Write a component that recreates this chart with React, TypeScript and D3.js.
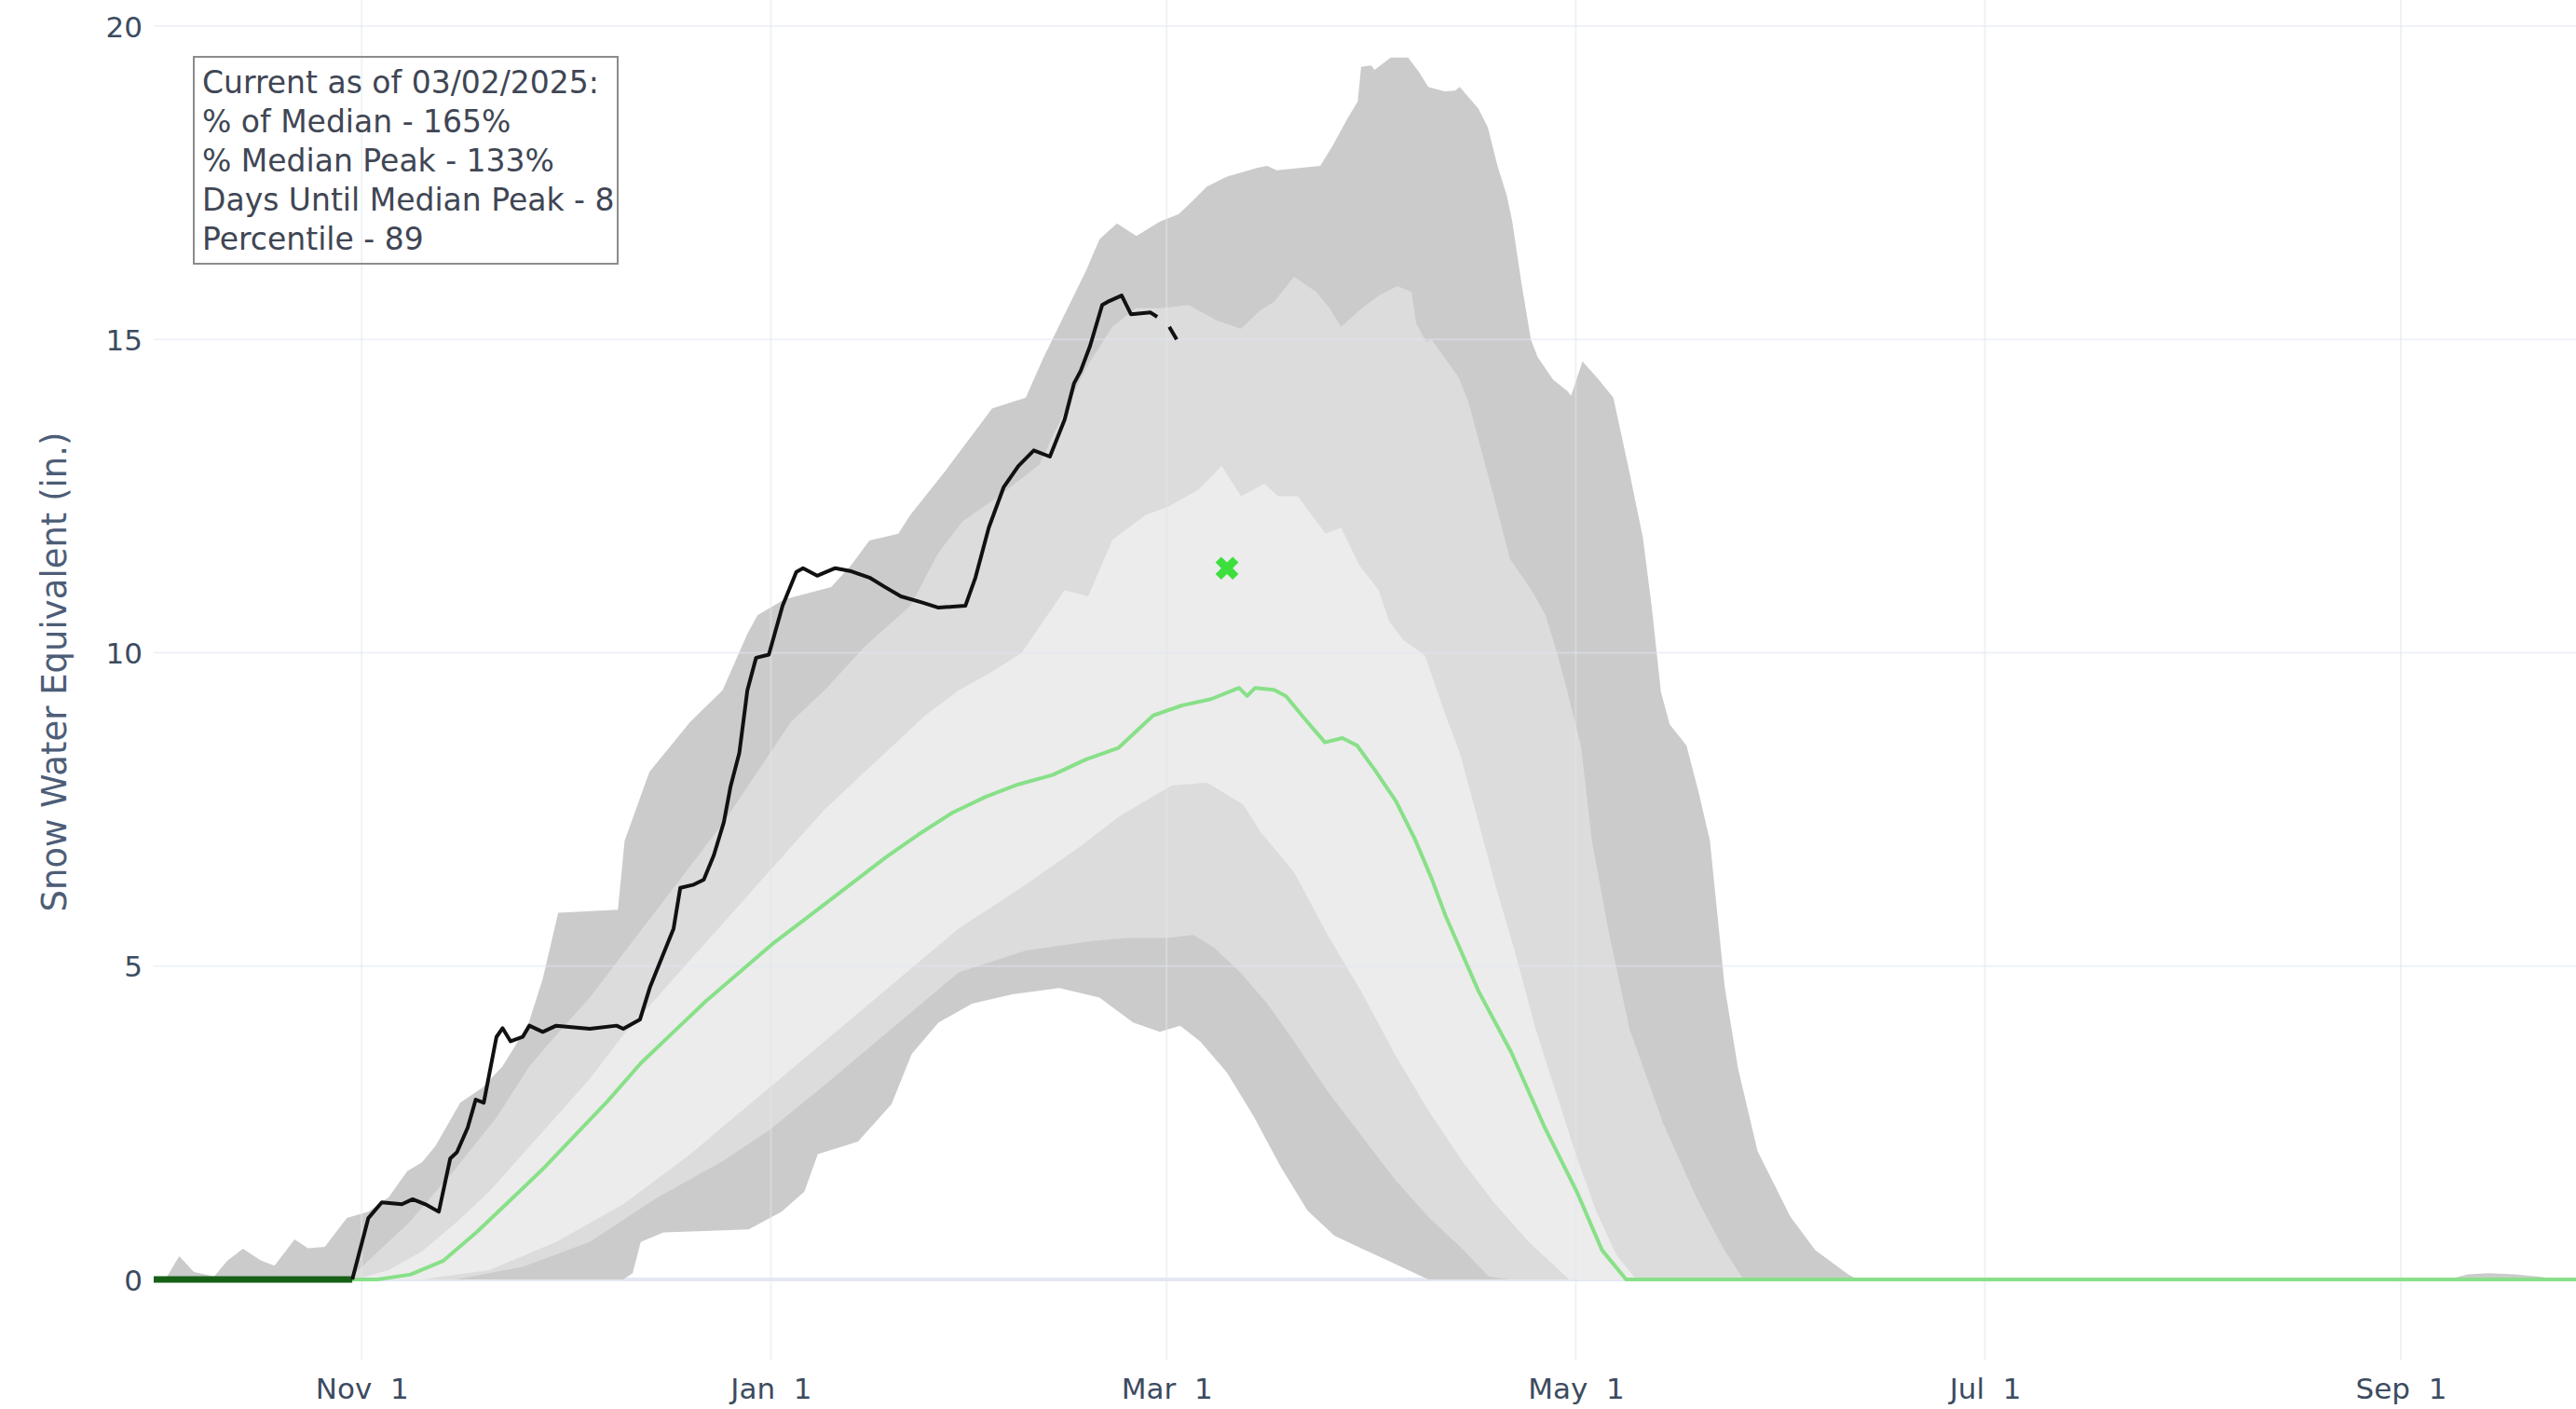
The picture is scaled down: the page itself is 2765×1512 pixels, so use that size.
import React, { useRef, useEffect } from 'react';
import * as d3 from 'd3';

// Snow water equivalent, water year 2025.
// Each point is [days since Oct 1 2024, inches].

const maxSwe: [number, number][] = [
  [0, 0], [2, 0.05], [3.8, 0.37], [6, 0.12], [9, 0.05], [11, 0.3], [13.3, 0.49], [16, 0.3], [18, 0.22],
  [21, 0.64], [23, 0.5], [25.5, 0.52], [28.8, 0.98], [32, 1.08], [35, 1.31], [37.8, 1.73], [40, 1.87],
  [42, 2.13], [45.7, 2.82], [49, 3.06], [52, 3.4], [55.8, 4.06], [58, 4.8], [60.3, 5.85], [69.2, 5.9],
  [70.2, 7.0], [73.9, 8.1], [80, 8.9], [84.8, 9.4], [88.5, 10.3], [90, 10.6], [94, 10.85], [101, 11.05],
  [104, 11.4], [106.7, 11.79], [111, 11.9], [112.8, 12.2], [118, 12.9], [125, 13.9], [130, 14.07],
  [132.6, 14.7], [135.8, 15.4], [139, 16.1], [141, 16.6], [143.6, 16.85], [146.5, 16.65], [150, 16.88],
  [152.8, 17.0], [154.5, 17.17], [157, 17.44], [160, 17.6], [164.6, 17.74], [166, 17.77], [167.4, 17.7],
  [173.9, 17.77], [175.7, 18.08], [178, 18.53], [179.5, 18.8], [180, 19.35], [181.5, 19.37], [182, 19.3],
  [184.4, 19.5], [187, 19.5], [188.6, 19.27], [190, 19.03], [192.4, 18.96], [194, 18.97], [194.7, 19.03],
  [195.5, 18.93], [197.5, 18.68], [198.9, 18.38], [200.3, 17.78], [201.7, 17.3], [202.5, 16.9],
  [203.9, 15.9], [205.3, 15.0], [206.3, 14.72], [208.6, 14.36], [210.8, 14.17], [211.3, 14.1], [213, 14.65],
  [215.4, 14.36], [217.6, 14.07], [220, 12.88], [222, 11.84], [223.3, 10.75], [224.7, 9.37], [226, 8.86],
  [228.5, 8.52], [230.3, 7.78], [232, 7.0], [234.2, 4.67], [236.2, 3.36], [239.1, 2.05], [244, 1.0],
  [247.7, 0.47], [252.6, 0.08], [254, 0], [342, 0], [345, 0.08], [348, 0.1], [352, 0.08], [356, 0.04],
  [358, 0], [365, 0],
];

const p90Swe: [number, number][] = [
  [0, 0], [29, 0], [32, 0.3], [38, 0.9], [44.7, 1.73], [51, 2.57], [56, 3.4], [60, 3.9], [65, 4.5],
  [70, 5.2], [75, 5.9], [80, 6.6], [85, 7.3], [90, 8.1], [95, 8.9], [100, 9.4], [106, 10.1], [112.8, 10.75],
  [117, 11.6], [120.6, 12.1], [126, 12.5], [132, 13.0], [136, 13.9], [139.3, 14.6], [142.9, 15.2],
  [146.4, 15.5], [150, 15.5], [154.3, 15.55], [158.5, 15.3], [162.1, 15.17], [164.9, 15.46], [167, 15.6],
  [170, 16.0], [173.3, 15.76], [175.3, 15.5], [177, 15.2], [179.7, 15.46], [182.6, 15.7], [185.4, 15.85],
  [187.5, 15.76], [188.2, 15.26], [189.7, 14.96], [190.5, 15.0], [192.5, 14.7], [194.5, 14.4], [196, 14.0],
  [198, 13.2], [200, 12.4], [202.2, 11.5], [205.4, 11.0], [207.5, 10.6], [209.2, 10.0], [210.7, 9.4],
  [212.8, 8.5], [214.4, 7.0], [217, 5.5], [220, 4.0], [225, 2.5], [230, 1.3], [234, 0.5], [237, 0],
  [365, 0],
];

const p70Swe: [number, number][] = [
  [0, 0], [30, 0], [35, 0.15], [40, 0.45], [45, 0.9], [50, 1.4], [55, 2.0], [60, 2.6], [65, 3.2],
  [70, 3.9], [75, 4.5], [80, 5.1], [85, 5.7], [90, 6.3], [95, 6.9], [100, 7.5], [105, 8.0], [110, 8.5],
  [115, 9.0], [120, 9.4], [125, 9.7], [129.4, 10.0], [135.8, 11.0], [139.3, 10.9], [142.9, 11.8],
  [147.9, 12.2], [151.4, 12.34], [155.7, 12.6], [159.2, 12.98], [162.1, 12.5], [165.6, 12.7], [167.6, 12.5],
  [170.6, 12.5], [172.6, 12.2], [174.7, 11.9], [177, 12.0], [179.7, 11.4], [182.6, 11.0], [184.2, 10.5],
  [186.3, 10.2], [189.5, 9.96], [192.6, 9.0], [194.7, 8.4], [197, 7.5], [200, 6.3], [203, 5.2], [206, 4.0],
  [209, 3.0], [212, 2.0], [215, 1.1], [218, 0.4], [221, 0], [365, 0],
];

const medianSwe: [number, number][] = [
  [0, 0], [33.4, 0], [38.3, 0.08], [43.2, 0.3], [48.1, 0.75], [53, 1.25], [57.9, 1.75], [62.8, 2.3],
  [67.7, 2.85], [72.6, 3.45], [77.5, 3.95], [82.4, 4.45], [87.3, 4.9], [92.2, 5.35], [97.1, 5.75],
  [102, 6.15], [109.3, 6.75], [114, 7.1], [119.1, 7.45], [124, 7.7], [128.9, 7.9], [134, 8.05],
  [139, 8.3], [143.8, 8.48], [149, 9.0], [153.3, 9.16], [157.6, 9.26], [161.8, 9.44], [163, 9.31],
  [164.2, 9.44], [167, 9.41], [168.8, 9.31], [171.4, 8.97], [174.6, 8.57], [177.2, 8.64], [179.4, 8.52],
  [182.1, 8.12], [185.2, 7.63], [188, 7.03], [190.5, 6.4], [192.6, 5.8], [197.5, 4.6], [202.4, 3.62],
  [207.3, 2.44], [212.2, 1.39], [215.9, 0.47], [219.5, 0], [365, 0],
];

const p30Swe: [number, number][] = [
  [0, 0], [40, 0], [50, 0.15], [60, 0.6], [70, 1.2], [80, 2.0], [90, 2.9], [100, 3.8], [110, 4.7],
  [120, 5.6], [130, 6.3], [138, 6.9], [143.8, 7.38], [151.7, 7.88], [157, 7.93], [162.4, 7.58], [165, 7.14],
  [170, 6.5], [175, 5.5], [180, 4.6], [185, 3.6], [190, 2.7], [195, 1.9], [200, 1.2], [205, 0.6],
  [209, 0.2], [211, 0], [365, 0],
];

const p10Swe: [number, number][] = [
  [0, 0], [45, 0], [55, 0.2], [65, 0.6], [75, 1.3], [85, 1.9], [92, 2.4], [100, 3.1], [110, 4.0],
  [120, 4.9], [130, 5.25], [140, 5.4], [145, 5.45], [151, 5.45], [155, 5.5], [158, 5.3], [162, 4.9],
  [166, 4.4], [170, 3.8], [175, 3.0], [180, 2.3], [185, 1.6], [190, 1.0], [195, 0.5], [199, 0.05],
  [202, 0], [365, 0],
];

const minSwe: [number, number][] = [
  [0, 0], [70, 0], [71.4, 0.1], [72.6, 0.6], [76, 0.75], [88.7, 0.8], [93.6, 1.08], [97, 1.4], [99, 2.0],
  [105, 2.2], [110, 2.8], [113, 3.6], [117, 4.1], [122, 4.4], [128, 4.55], [135, 4.65], [141, 4.5],
  [146, 4.1], [150, 3.95], [153, 4.05], [156, 3.8], [160, 3.3], [164, 2.6], [168, 1.8], [172, 1.1],
  [176, 0.7], [180, 0.5], [184, 0.3], [188, 0.1], [190, 0], [365, 0],
];

// current water year before the first snow
const currentZero: [number, number][] = [[0, 0], [29.6, 0]];

// current water year, null = missing day
const currentSwe: [number, number | null][] = [
  [29.6, 0], [32, 0.98], [34, 1.23], [37, 1.2], [38.6, 1.28], [40.5, 1.2], [42.5, 1.08], [44.2, 1.93],
  [45.2, 2.03], [46.8, 2.42], [48, 2.87], [49.2, 2.82], [51.1, 3.87], [52, 4.01], [53.2, 3.8], [55, 3.87],
  [56, 4.05], [58, 3.95], [60, 4.05], [65, 4.0], [69, 4.05], [70, 4.0], [72.5, 4.15], [74, 4.67],
  [76, 5.2], [77.5, 5.6], [78.5, 6.25], [80.5, 6.3], [82, 6.38], [83.5, 6.77], [85, 7.3], [86, 7.87],
  [87.3, 8.4], [88.5, 9.4], [89.8, 9.92], [91.7, 9.97], [93.75, 10.75], [95.8, 11.29], [96.8, 11.35],
  [98.9, 11.23], [101.6, 11.35], [104, 11.3], [106.7, 11.2], [109, 11.05], [111.4, 10.9], [114.6, 10.8],
  [117, 10.72], [121, 10.75], [122.5, 11.2], [124.5, 12.0], [126.7, 12.64], [128.9, 12.98], [131.2, 13.23],
  [133.6, 13.13], [135.8, 13.72], [137.2, 14.3], [138.2, 14.5], [139.6, 14.9], [141.4, 15.55], [142.2, 15.6],
  [144.3, 15.7], [145.7, 15.4], [148.6, 15.43], [149.6, 15.36], [150.4, null], [151.4, 15.2], [152.5, 15.0],
];

const medianPeak: [number, number] = [160, 11.35];

const yTicks = [0, 5, 10, 15, 20];
const yTitle = 'Snow Water Equivalent (in.)';
const infoLines = [
  'Current as of 03/02/2025:',
  '% of Median - 165%',
  '% Median Peak - 133%',
  'Days Until Median Peak - 8',
  'Percentile - 89',
];

export default function App() {
  const svgRef = useRef<SVGSVGElement>(null);

  useEffect(() => {
    if (!svgRef.current) return;
    const svg = d3.select(svgRef.current);
    svg.selectAll('*').remove();

    const width = 2765;
    const font = '"DejaVu Sans", Verdana, sans-serif';
    const t0 = Date.UTC(2024, 9, 1);
    const toDate = (d: number) => new Date(t0 + d * 864e5);

    const x = d3.scaleUtc().domain([toDate(0), toDate(365)]).range([165, 2793]);
    const y = d3.scaleLinear().domain([0, 20]).range([1373, 28]);

    const px = (p: [number, number | null]) => x(toDate(p[0]));
    const py = (p: [number, number | null]) => y(p[1] as number);

    const line = d3.line<[number, number | null]>().x(px).y(py).defined(p => p[1] != null);

    // band between two boundary series: top forward, bottom backward
    const band = (top: [number, number][], bottom: [number, number][]) =>
      line([...top, ...bottom.slice().reverse()]) + 'Z';

    svg.append('rect').attr('width', width).attr('height', 1512).attr('fill', '#fff');

    const g = svg.append('g');

    // zero line
    g.append('line')
      .attr('x1', 165).attr('x2', width)
      .attr('y1', y(0)).attr('y2', y(0))
      .attr('stroke', '#e5e8f3').attr('stroke-width', 4);

    // percentile bands
    g.append('path').attr('d', band(maxSwe, minSwe)).attr('fill', '#cbcbcb');
    g.append('path').attr('d', band(p90Swe, p10Swe)).attr('fill', '#dcdcdc');
    g.append('path').attr('d', band(p70Swe, p30Swe)).attr('fill', '#ececec');

    // grid on top, faint
    const xTicks = x.ticks(d3.utcMonth.every(2) as d3.TimeInterval);
    const grid = g.append('g').attr('stroke', '#dfe6f2').attr('stroke-opacity', 0.5).attr('stroke-width', 2);
    xTicks.forEach(t => {
      grid.append('line').attr('x1', x(t)).attr('x2', x(t)).attr('y1', 0).attr('y2', 1460);
    });
    yTicks.filter(v => v > 0).forEach(v => {
      grid.append('line').attr('x1', 165).attr('x2', width).attr('y1', y(v)).attr('y2', y(v));
    });

    // median
    g.append('path').attr('d', line(medianSwe))
      .attr('fill', 'none').attr('stroke', '#88e088').attr('stroke-width', 4)
      .attr('stroke-linejoin', 'round');

    // current year
    g.append('path').attr('d', line(currentZero))
      .attr('fill', 'none').attr('stroke', '#176117').attr('stroke-width', 7);
    g.append('path').attr('d', line(currentSwe))
      .attr('fill', 'none').attr('stroke', '#111').attr('stroke-width', 4)
      .attr('stroke-linejoin', 'round');

    // median peak marker
    g.append('path')
      .attr('d', d3.symbol(d3.symbolCross, 380)())
      .attr('transform', `translate(${px(medianPeak)},${py(medianPeak)}) rotate(45)`)
      .attr('fill', '#3ddf3d');

    // x axis
    const xAxis = g.append('g')
      .attr('transform', 'translate(0,1501)')
      .call(d3.axisBottom(x).tickValues(xTicks).tickSize(0).tickPadding(0).tickFormat(d3.utcFormat('%b %e') as any));
    xAxis.select('.domain').remove();
    xAxis.selectAll('text')
      .attr('dy', 0).attr('y', 0)
      .attr('fill', '#3c4b60').attr('font-size', 31).attr('font-family', font)
      .style('white-space', 'pre');

    // y axis
    const yAxis = g.append('g')
      .attr('transform', 'translate(153,0)')
      .call(d3.axisLeft(y).tickValues(yTicks).tickSize(0).tickPadding(0));
    yAxis.select('.domain').remove();
    yAxis.selectAll('text')
      .attr('x', 0).attr('dy', '0.36em')
      .attr('fill', '#3c4b60').attr('font-size', 31).attr('font-family', font);

    svg.append('text')
      .attr('transform', 'translate(71,721) rotate(-90)')
      .attr('text-anchor', 'middle')
      .attr('fill', '#4d5d77').attr('font-size', 37).attr('font-family', font)
      .text(yTitle);

    // info box
    const info = svg.append('g');
    info.append('rect')
      .attr('x', 208).attr('y', 61).attr('width', 455).attr('height', 222)
      .attr('fill', 'none').attr('stroke', '#8c8c8c').attr('stroke-width', 2);
    infoLines.forEach((s, i) => {
      info.append('text')
        .attr('x', 217).attr('y', 100 + i * 42)
        .attr('fill', '#404654').attr('font-size', 33).attr('font-family', font)
        .text(s);
    });
  }, []);

  return (
    <svg
      ref={svgRef}
      width={2765}
      height={1512}
      style={{ position: 'absolute', left: 0, top: 0 }}
    />
  );
}
